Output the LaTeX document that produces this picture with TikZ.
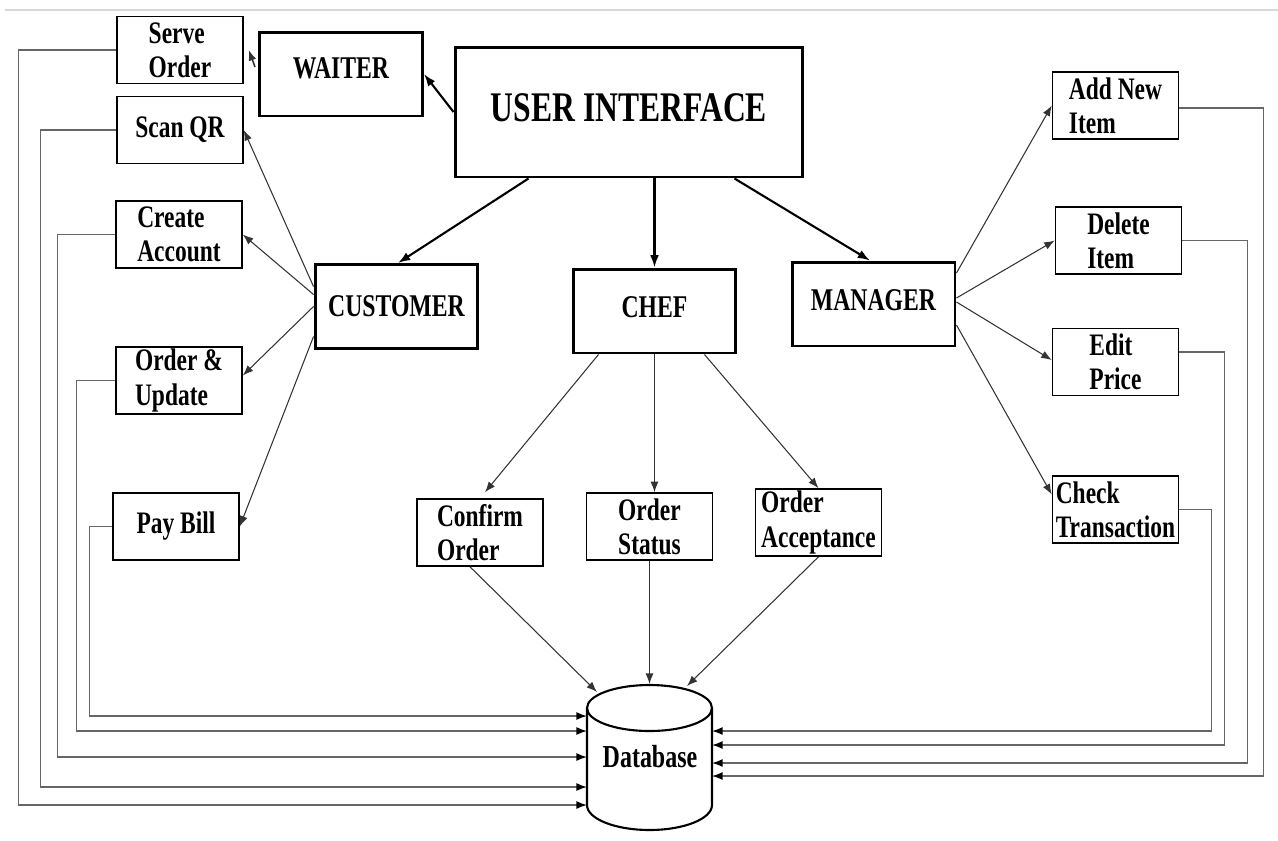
\documentclass[tikz,border=0pt]{standalone}
\usepackage{fontspec}
\newfontfamily\dfont{Liberation Serif}[FakeStretch=0.75]
\usetikzlibrary{arrows.meta}
\tikzset{
	box/.style={draw, line width=0.9pt, minimum width=2.52cm, minimum height=1.34cm, inner sep=0pt, align=left, font=\dfont\bfseries\fontsize{17.8}{19.4}\selectfont},
	role/.style={draw, line width=1.7pt, minimum width=3.26cm, minimum height=1.68cm, inner sep=0pt, font=\dfont\bfseries\fontsize{18}{20}\selectfont},
	lift/.style={text depth=#1},
	mainarrow/.style={-{Latex[length=7pt,width=5pt]}, line width=1.2pt},
	subarrow/.style={-{Latex[length=6pt,width=4.5pt]}, line width=0.6pt, color=black!80},
	feed/.style={-{Latex[length=6pt,width=4.5pt,black]}, line width=0.8pt, color=black!60},
}

\begin{document}
\begin{tikzpicture}[x=0.02cm, y=-0.02cm]
			%%%%% START %%%%%
			\useasboundingbox (0,0) rectangle (1278,840);
			\draw[line width=1.2pt, color=black!15] (5,10) -- (1278,10);
			
			% top level
			\node[role, lift=0.16cm, minimum width=6.96cm, minimum height=2.6cm, font=\dfont\bfseries\fontsize{24}{26}\selectfont] (ui) at (629,112) {USER INTERFACE};
			\node[role, lift=0.24cm] (waiter) at (341,74) {WAITER};
			\node[role] (customer) at (396.5,306.5) {CUSTOMER};
			\node[role, lift=0.16cm] (chef) at (654.5,311) {CHEF};
			\node[role, lift=0.16cm] (manager) at (873.5,304) {MANAGER};
			
			% customer side
			\node[box] (serve) at (180,50) {Serve\\Order};
			\node[box] (scanqr) at (180,130) {Scan QR};
			\node[box] (createacc) at (179,234.5) {Create\\Account};
			\node[box] (orderupd) at (179,380.5) {Order \&\\Update};
			\node[box] (paybill) at (176,526.5) {Pay Bill};
			
			% chef side
			\node[box] (confirm) at (480,532.5) {Confirm\\Order};
			\node[box] (status) at (649.5,526.5) {Order\\Status};
			\node[box] (accept) at (818.5,522.5) {Order\\Acceptance};
			
			% manager side
			\node[box] (addnew) at (1115.5,105.5) {Add New\\Item};
			\node[box] (delitem) at (1118.5,240.5) {Delete\\Item};
			\node[box] (editprice) at (1115.5,362) {Edit\\Price};
			\node[box] (checktr) at (1115.5,509.5) {Check\\Transaction};
			
			% database
			\coordinate (dbtop) at (649.5,708);
			\draw[line width=1.2pt] (dbtop) ellipse (1.25cm and 0.46cm);
			\draw[line width=1.2pt] ([xshift=-1.25cm]dbtop) -- (587,805) arc (180:360:1.25cm and 0.5cm) -- ([xshift=1.25cm]dbtop);
			\node[font=\dfont\bfseries\fontsize{18.2}{20}\selectfont] (db) at (650,757) {Database};
			
			\coordinate (dbin1) at (587,716);
			\coordinate (dbin2) at (587,731);
			\coordinate (dbin3) at (587,757);
			\coordinate (dbin4) at (587,787);
			\coordinate (dbin5) at (587,805);
			\coordinate (dbout1) at (712,731);
			\coordinate (dbout2) at (712,745);
			\coordinate (dbout3) at (712,763);
			\coordinate (dbout4) at (712,776);
			
			% arrows from the interface
			\draw[mainarrow] (ui.west) -- (waiter.east);
			\draw[mainarrow] ([xshift=1.5cm]ui.south west) -- ([xshift=0.03cm]customer.north);
			\draw[mainarrow] (chef.north |- ui.south) -- (chef.north);
			\draw[mainarrow] ([xshift=-1.4cm]ui.south east) -- ([xshift=-0.07cm]manager.north);
			\draw[subarrow, line width=0.9pt] ([xshift=-0.06cm,yshift=0.14cm]waiter.west) -- ([xshift=0.1cm]serve.east);
			
			\draw[subarrow] ([yshift=0.4cm]customer.west) -- (scanqr.east);
			\draw[subarrow] ([yshift=0.24cm]customer.west) -- (createacc.east);
			\draw[subarrow] (customer.west) -- ([yshift=0.1cm]orderupd.east);
			\draw[subarrow] ([yshift=-0.6cm]customer.west) -- (paybill.east);
			
			\draw[subarrow] ([xshift=0.54cm]chef.south west) -- ([xshift=0.1cm,yshift=0.12cm]confirm.north);
			\draw[subarrow] (chef.south) -- (chef.south |- status.north);
			\draw[subarrow] ([xshift=-0.66cm]chef.south east) -- (accept.north);
			
			\draw[subarrow] ([yshift=0.62cm]manager.east) -- (addnew.west);
			\draw[subarrow] ([yshift=0.12cm]manager.east) -- (delitem.west);
			\draw[subarrow] ([yshift=0.04cm]manager.east) -- ([yshift=0.04cm]editprice.west);
			\draw[subarrow] ([yshift=-0.42cm]manager.east) -- ([yshift=0.3cm]checktr.west);
			
			% into the database
			\draw[subarrow] ([xshift=-0.2cm]confirm.south) -- ([xshift=-1.05cm,yshift=0.32cm]dbtop);
			\draw[subarrow] (status.south) -- ([yshift=0.48cm]dbtop);
			\draw[subarrow] (accept.south) -- ([xshift=0.75cm,yshift=0.44cm]dbtop);
			
			\draw[feed] (serve.west) -- ++(-98,0) |- (dbin5);
			\draw[feed] (scanqr.west) -- ++(-76,0) |- (dbin4);
			\draw[feed] (createacc.west) -- ++(-58,0) |- (dbin3);
			\draw[feed] (orderupd.west) -- ++(-39,0) |- (dbin2);
			\draw[feed] (paybill.west) -- ++(-23,0) |- (dbin1);
			
			\draw[feed] (checktr.east) -- ++(32,0) |- (dbout1);
			\draw[feed] ([yshift=0.2cm]editprice.east) -- ++(45,0) |- (dbout2);
			\draw[feed] (delitem.east) -- ++(65,0) |- (dbout3);
			\draw[feed] ([yshift=-0.05cm]addnew.east) -- ++(84,0) |- (dbout4);
			%%%%% END %%%%%
\end{tikzpicture}
\end{document}
